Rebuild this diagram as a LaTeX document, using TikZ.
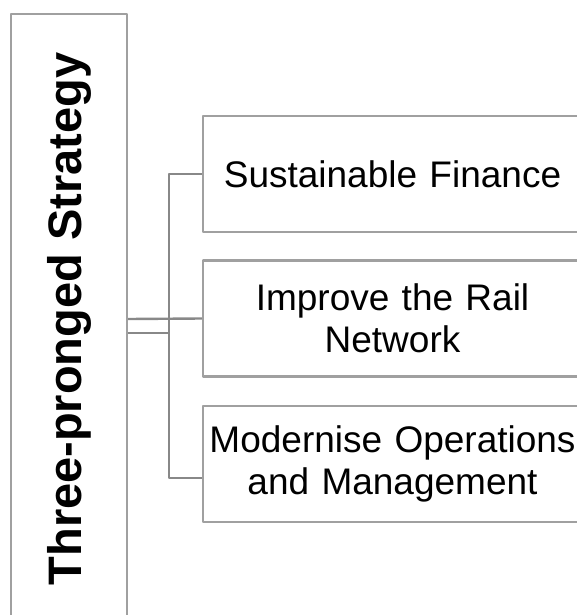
\documentclass[tikz,border=0pt]{standalone}
\usepackage{fontspec}
\setmainfont{Liberation Sans}
\usetikzlibrary{positioning}
\definecolor{boxgray}{RGB}{160,160,160}
\definecolor{linkgray}{RGB}{136,136,136}
\begin{document}
\begin{tikzpicture}[x=1pt,y=-1pt, line join=round,
    stratbox/.style={draw=boxgray,line width=2.4pt,minimum width=116pt,minimum height=610pt,inner sep=0pt},
    prongbox/.style={draw=boxgray,line width=2.4pt,minimum width=379pt,minimum height=116pt,inner sep=0pt,
        text width=370pt,align=center,font=\fontsize{37}{42}\selectfont},
    link/.style={draw=linkgray,line width=2.4pt}]
    \useasboundingbox (0,0) rectangle (576,615);
    % left column
    \node[stratbox] (strat) at (69,319) {};
    \node[rotate=90,font=\fontsize{47}{52}\selectfont\bfseries] (strat-text) at (strat) {Three-pronged Strategy};
    % the three prongs
    \node[prongbox] (fin) at (392.5,174) {Sustainable Finance};
    \node[prongbox] (rail) at (392.5,318.5) {Improve the Rail\\Network};
    \node[prongbox] (ops) at (392.5,464) {Modernise Operations\\and Management};
    % connectors
    \coordinate (jn) at (169,333);
    \coordinate (opsin) at ([yshift=-14pt]ops.west);
    \draw[link] (strat.east) -- (rail.west);
    \draw[link] (strat.east |- jn) -- (jn);
    \draw[link] (fin.west) -| (jn) |- (opsin);
\end{tikzpicture}
\end{document}
